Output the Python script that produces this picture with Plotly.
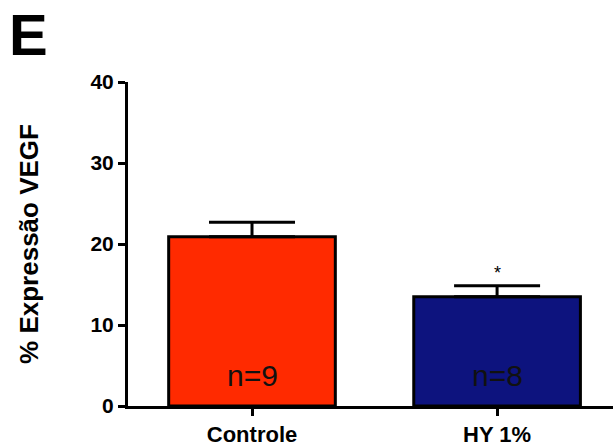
import plotly.graph_objects as go

categories = ["Controle", "HY 1%"]
means = [20.9, 13.5]
sem = [1.8, 1.35]
n_labels = ["n=9", "n=8"]
colors = ["#FF2A00", "#0D137E"]
y_ticks = [0, 10, 20, 30, 40]
star_y = 16.4

fig = go.Figure()
fig.add_trace(go.Bar(
    x=categories, y=means, width=0.68,
    marker=dict(color=colors, line=dict(color="black", width=3)),
    error_y=dict(type="data", symmetric=False, array=sem, arrayminus=[0, 0],
                 color="black", thickness=3, width=43),
    showlegend=False,
))
for c, t in zip(categories, n_labels):
    fig.add_annotation(x=c, y=3.8, text=t, showarrow=False,
                       font=dict(family="Liberation Sans, Arial", size=30, color="#111111"))
fig.add_annotation(x=categories[1], y=star_y, text="*", showarrow=False,
                   font=dict(family="Liberation Sans, Arial", size=18, color="black"))
fig.add_annotation(xref="paper", yref="paper", x=-0.206, y=1.147, xanchor="center", yanchor="middle",
                   text="<b>E</b>", showarrow=False,
                   font=dict(family="Liberation Sans, Arial", size=58, color="black"))

fig.update_layout(
    width=613, height=447,
    margin=dict(l=128, r=0, t=82, b=38),
    plot_bgcolor="white", paper_bgcolor="white",
    font=dict(family="Liberation Sans, Arial", color="black"),
    xaxis=dict(range=[-0.506, 1.473], showline=True, linecolor="black", linewidth=3,
               ticks="outside", ticklen=7, tickwidth=3, tickcolor="black",
               tickfont=dict(size=22, weight="bold"), showgrid=False, zeroline=False),
    yaxis=dict(range=[0, 40], tickvals=y_ticks, showline=True, linecolor="black", linewidth=3,
               ticks="outside", ticklen=7, tickwidth=3, tickcolor="black",
               tickfont=dict(size=21, weight="bold"), showgrid=False, zeroline=False,
               title=dict(text="% Expressão VEGF", font=dict(size=26, weight="bold"), standoff=45)),
)
fig.write_html("out.html")
